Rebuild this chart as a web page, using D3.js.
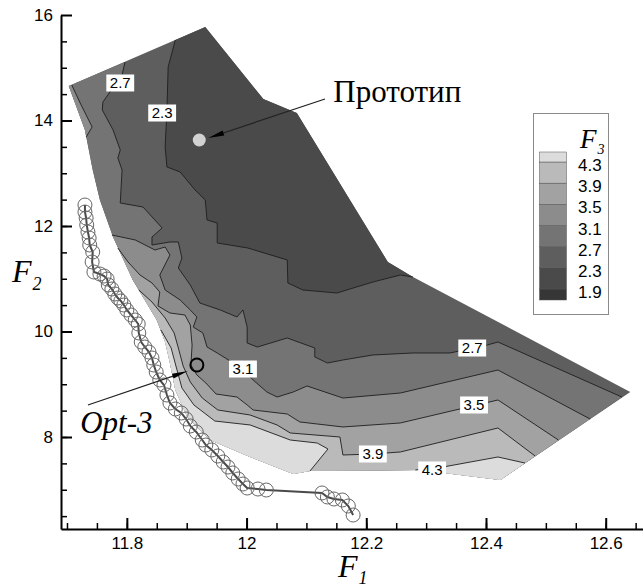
<!DOCTYPE html>
<html>
<head>
<meta charset="utf-8">
<script src="https://cdn.jsdelivr.net/npm/d3@7"></script>
<style>
  body { margin: 0; background: #fff; }
  svg { display: block; }
  .axis text { font-family: "Liberation Sans", Arial, sans-serif; font-size: 17px; fill: #000; }
  .axis path, .axis line { stroke: #000; }
</style>
</head>
<body>
<svg id="chart" width="643" height="588"></svg>
<script>
// contour levels of F3 and band colours (band i lies between levels[i-1] and levels[i])
var levels = [1.9, 2.3, 2.7, 3.1, 3.5, 3.9, 4.3];
var bandColors = ["#363636", "#4a4a4a", "#5e5e5e", "#747474", "#8c8c8c", "#a2a2a2", "#bababa", "#dcdcdc"];

var xTicks = [11.8, 12, 12.2, 12.4, 12.6];
var yTicks = [8, 10, 12, 14, 16];

// outline of the computed region, clockwise, [F1, F2]
var domainEdge = [
  [11.703, 14.654], [11.931, 15.773], [12.028, 14.408], [12.084, 14.142], [12.236, 11.318],
  [12.278, 11.033], [12.641, 8.853], [12.424, 7.185], [12.290, 7.375], [12.106, 7.356],
  [12.078, 7.299], [12.006, 7.621], [11.939, 7.943], [11.901, 8.379], [11.881, 8.891],
  [11.872, 9.403], [11.864, 9.801], [11.850, 10.218], [11.810, 10.976], [11.777, 11.792],
  [11.755, 12.493], [11.743, 13.062], [11.730, 13.820]
];

// contour lines, [F1, F2]
var contour23 = [
  [11.881, 15.526], [11.869, 15.014], [11.867, 14.199], [11.864, 13.498], [11.867, 13.119],
  [11.889, 13.024], [11.914, 12.683], [11.931, 12.493], [11.934, 12.114], [11.951, 12.057],
  [11.951, 11.678], [12.002, 11.583], [12.068, 11.356], [12.069, 10.920], [12.094, 10.787],
  [12.151, 10.730], [12.211, 10.938], [12.257, 11.071], [12.278, 11.033]
];
var contour27 = [
  [11.797, 15.109], [11.792, 14.863], [11.760, 14.351], [11.759, 14.199], [11.777, 13.820],
  [11.789, 13.441], [11.785, 13.289], [11.792, 13.062], [11.789, 12.436], [11.827, 12.360],
  [11.859, 11.962], [11.842, 11.792], [11.842, 11.640], [11.872, 11.697], [11.886, 11.697],
  [11.892, 11.393], [11.886, 11.204], [11.906, 10.882], [11.922, 10.540], [11.956, 10.408],
  [11.984, 10.275], [11.994, 10.408], [12.001, 10.085], [12.001, 9.782], [12.018, 9.706],
  [12.068, 9.877], [12.114, 9.687], [12.114, 9.517], [12.135, 9.403], [12.161, 9.460],
  [12.211, 9.555], [12.278, 9.593], [12.340, 9.593], [12.402, 9.744], [12.420, 9.801],
  [12.627, 8.758]
];
var contour31a = [[11.708, 14.673], [11.722, 14.332], [11.742, 13.877], [11.732, 13.687]];
var contour31b = [
  [11.775, 11.829], [11.814, 11.735], [11.847, 11.545], [11.864, 11.602], [11.872, 11.450],
  [11.855, 11.071], [11.864, 10.787], [11.889, 10.597], [11.906, 10.408], [11.917, 10.275],
  [11.911, 10.085], [11.927, 9.972], [11.934, 9.706], [11.951, 9.593], [11.994, 9.289],
  [12.011, 9.081], [12.034, 8.853], [12.051, 8.758], [12.078, 8.853], [12.101, 8.967],
  [12.161, 8.739], [12.257, 8.834], [12.420, 9.270], [12.574, 8.341]
];
var contour35 = [
  [11.785, 11.583], [11.802, 11.318], [11.822, 11.071], [11.842, 10.920], [11.855, 10.749],
  [11.852, 10.484], [11.872, 10.351], [11.897, 10.313], [11.906, 10.123], [11.909, 9.744],
  [11.907, 9.365], [11.917, 9.176], [11.932, 9.024], [11.949, 8.815], [11.984, 8.758],
  [12.001, 8.607], [12.011, 8.512], [12.068, 8.436], [12.089, 8.285], [12.161, 8.190],
  [12.257, 8.266], [12.420, 8.702], [12.521, 7.943]
];
var contour39 = [
  [11.820, 10.787], [11.842, 10.559], [11.864, 10.256], [11.879, 9.972], [11.887, 9.649],
  [11.894, 9.346], [11.906, 9.043], [11.926, 8.739], [11.952, 8.512], [12.006, 8.417],
  [12.051, 8.228], [12.073, 8.076], [12.156, 8.000], [12.161, 7.659], [12.211, 7.678],
  [12.257, 7.716], [12.420, 8.171], [12.482, 7.640]
];
var contour43a = [
  [11.857, 10.029], [11.874, 9.687], [11.882, 9.346], [11.892, 8.929], [11.912, 8.607],
  [11.947, 8.303], [12.006, 8.228], [12.073, 7.943], [12.118, 7.886], [12.136, 7.773],
  [12.106, 7.356]
];
var contour43b = [[12.282, 7.375], [12.328, 7.431], [12.420, 7.621], [12.465, 7.507]];

// Pareto front points
var paretoF1 = [11.730, 11.730, 11.732, 11.733, 11.735, 11.737, 11.738, 11.743, 11.742, 11.745,
  11.755, 11.762, 11.767, 11.769, 11.775, 11.780, 11.785, 11.790, 11.795, 11.800,
  11.807, 11.814, 11.819, 11.820, 11.824, 11.830, 11.837, 11.842, 11.845, 11.849,
  11.855, 11.862, 11.867, 11.872, 11.881, 11.891, 11.899, 11.906, 11.916, 11.926,
  11.932, 11.942, 11.952, 11.961, 11.969, 11.977, 11.986, 11.994, 12.001, 12.019,
  12.033, 12.126, 12.135, 12.146, 12.160, 12.170, 12.178];
var paretoF2 = [12.398, 12.265, 12.152, 12.019, 11.886, 11.773, 11.640, 11.507, 11.318, 11.128,
  11.090, 11.052, 10.995, 10.882, 10.806, 10.711, 10.635, 10.578, 10.502, 10.408,
  10.313, 10.218, 10.142, 9.972, 9.801, 9.706, 9.611, 9.498, 9.365, 9.232,
  9.081, 8.986, 8.796, 8.645, 8.531, 8.455, 8.341, 8.209, 8.095, 7.943,
  7.848, 7.754, 7.640, 7.526, 7.431, 7.318, 7.204, 7.109, 7.033, 7.014,
  6.995, 6.939, 6.863, 6.825, 6.806, 6.692, 6.521];

// contour labels [F1, F2, text]
var contourLabels = [
  [11.789, 14.711, "2.7"], [11.859, 14.142, "2.3"], [12.377, 9.687, "2.7"],
  [11.994, 9.289, "3.1"], [12.380, 8.607, "3.5"], [12.211, 7.678, "3.9"], [12.310, 7.375, "4.3"]
];

var prototypePt = [11.921, 13.630];
var prototypeText = [12.145, 14.351];
var prototypeArrow = [[12.131, 14.408], [11.936, 13.668]];
var optPt = [11.917, 9.365];
var optText = [11.722, 8.076];
var optArrow = [[11.735, 8.607], [11.902, 9.251]];

var svg = d3.select("#chart");

var x = d3.scaleLinear().domain([11.69, 12.6623]).range([61, 643]),
    y = d3.scaleLinear().domain([6.256, 16]).range([529, 15]);

var lineGen = d3.line().x(function(d) { return x(d[0]); }).y(function(d) { return y(d[1]); });

// regions above each level, painted light over dark
var regions = [
  {line: contour23, close: [4, 3, 2, 1], band: 1},
  {line: contour27, close: d3.range(7, 23).concat([0]), band: 3},
  {line: contour31a, close: [22, 0], band: 4},
  {line: contour31b, close: d3.range(7, 20), band: 4},
  {line: contour35, close: d3.range(7, 19), band: 5},
  {line: contour39, close: d3.range(7, 18), band: 6},
  {line: contour43a, close: d3.range(10, 17), band: 7},
  {line: contour43b, close: [7, 8], band: 7}
];

var plot = svg.append("g");

plot.append("path")
  .attr("d", lineGen(domainEdge) + "Z")
  .attr("fill", bandColors[2]);

plot.selectAll(".region")
  .data(regions)
  .enter().append("path")
  .attr("class", "region")
  .attr("d", function(r) {
    var pts = r.line.concat(r.close.map(function(i) { return domainEdge[i]; }));
    return lineGen(pts) + "Z";
  })
  .attr("fill", function(r) { return bandColors[r.band]; });

plot.selectAll(".cline")
  .data(regions)
  .enter().append("path")
  .attr("class", "cline")
  .attr("d", function(r) { return lineGen(r.line); })
  .attr("fill", "none")
  .attr("stroke", "#1e1e1e")
  .attr("stroke-width", 0.9);

// contour labels
var lab = plot.selectAll(".clabel")
  .data(contourLabels)
  .enter().append("g")
  .attr("class", "clabel")
  .attr("transform", function(d) { return "translate(" + x(d[0]) + "," + y(d[1]) + ")"; });
lab.append("rect").attr("fill", "#fff");
lab.append("text")
  .attr("text-anchor", "middle")
  .attr("dy", "0.36em")
  .style("font", "15px 'Liberation Sans', Arial, sans-serif")
  .text(function(d) { return d[2]; });
lab.each(function() {
  var g = d3.select(this), w = g.select("text").node().getComputedTextLength() + 7;
  g.select("rect").attr("x", -w / 2).attr("y", -8.5).attr("width", w).attr("height", 17);
});

// Pareto front
var pareto = paretoF1.map(function(v, i) { return [v, paretoF2[i]]; });
plot.append("path")
  .attr("d", lineGen(pareto))
  .attr("fill", "none")
  .attr("stroke", "#4a4a4a")
  .attr("stroke-width", 2);
plot.selectAll(".pp")
  .data(pareto)
  .enter().append("circle")
  .attr("class", "pp")
  .attr("cx", function(d) { return x(d[0]); })
  .attr("cy", function(d) { return y(d[1]); })
  .attr("r", 7)
  .attr("fill", "none")
  .attr("stroke", "#666")
  .attr("stroke-width", 1);

// annotations
function arrow(a, b, len, half) {
  var x0 = x(a[0]), y0 = y(a[1]), x1 = x(b[0]), y1 = y(b[1]);
  var dx = x1 - x0, dy = y1 - y0, L = Math.sqrt(dx * dx + dy * dy), ux = dx / L, uy = dy / L;
  plot.append("line")
    .attr("x1", x0).attr("y1", y0).attr("x2", x1 - ux * len * 0.5).attr("y2", y1 - uy * len * 0.5)
    .attr("stroke", "#222").attr("stroke-width", 1.2);
  var bx = x1 - ux * len, by = y1 - uy * len;
  plot.append("path")
    .attr("d", "M" + x1 + "," + y1 + "L" + (bx - uy * half) + "," + (by + ux * half) +
               "L" + (bx + uy * half) + "," + (by - ux * half) + "Z")
    .attr("fill", "#000");
}

arrow(prototypeArrow[0], prototypeArrow[1], 16, 2.6);
plot.append("circle")
  .attr("cx", x(prototypePt[0])).attr("cy", y(prototypePt[1]))
  .attr("r", 6.5).attr("fill", "#d2d2d2");
plot.append("text")
  .attr("x", x(prototypeText[0])).attr("y", y(prototypeText[1]))
  .style("font", "31px 'Liberation Serif', 'Times New Roman', serif")
  .text("Прототип");

arrow(optArrow[0], optArrow[1], 16, 2.6);
plot.append("circle")
  .attr("cx", x(optPt[0])).attr("cy", y(optPt[1]))
  .attr("r", 6.5).attr("fill", "none").attr("stroke", "#000").attr("stroke-width", 2);
plot.append("text")
  .attr("x", x(optText[0])).attr("y", y(optText[1]))
  .style("font", "italic 31px 'Liberation Serif', 'Times New Roman', serif")
  .text("Opt-3");

// axes
var fmt = d3.format("~g");
svg.append("g")
  .attr("class", "axis")
  .attr("transform", "translate(0,529)")
  .call(d3.axisBottom(x).tickValues(d3.range(11.7, 12.66, 0.05)).tickSize(-6).tickSizeOuter(0).tickFormat(""))
  .call(function(g) { g.select(".domain").remove(); g.selectAll("line").attr("stroke-width", 1.5); });
svg.append("g")
  .attr("class", "axis")
  .attr("transform", "translate(0,529)")
  .call(d3.axisBottom(x).tickValues(xTicks).tickSize(-11).tickSizeOuter(0).tickPadding(8).tickFormat(fmt))
  .call(function(g) { g.selectAll("line, path").attr("stroke-width", 2); });

svg.append("g")
  .attr("class", "axis")
  .attr("transform", "translate(61,0)")
  .call(d3.axisLeft(y).tickValues(d3.range(6.5, 16, 0.5)).tickSize(-6).tickSizeOuter(0).tickFormat(""))
  .call(function(g) { g.select(".domain").remove(); g.selectAll("line").attr("stroke-width", 1.5); });
svg.append("g")
  .attr("class", "axis")
  .attr("transform", "translate(61,0)")
  .call(d3.axisLeft(y).tickValues(yTicks).tickSize(-11).tickSizeOuter(0).tickPadding(8).tickFormat(fmt))
  .call(function(g) { g.selectAll("line, path").attr("stroke-width", 2); });

// axis titles
var serif = "'Liberation Serif', 'Times New Roman', serif";
var t1 = svg.append("text").attr("x", 338).attr("y", 577)
  .style("font", "italic 32px " + serif).text("F");
t1.append("tspan").attr("dy", 7).attr("dx", 1).style("font-size", "18px").text("1");
var t2 = svg.append("text").attr("x", 12).attr("y", 282)
  .style("font", "italic 32px " + serif).text("F");
t2.append("tspan").attr("dy", 8).attr("dx", 1).style("font-size", "18px").text("2");

// legend
var legend = svg.append("g");
legend.append("rect")
  .attr("x", 533.5).attr("y", 113.5).attr("width", 75).attr("height", 201)
  .attr("fill", "#fff").attr("stroke", "#8a8a8a");
var ly = d3.scaleLinear().domain([1.9, 4.3]).range([289, 162]);
var edges = [300].concat(levels.map(ly)).concat([152]);
legend.selectAll(".sw")
  .data(bandColors)
  .enter().append("rect")
  .attr("x", 539.5)
  .attr("y", function(d, i) { return edges[i + 1]; })
  .attr("width", 27)
  .attr("height", function(d, i) { return edges[i] - edges[i + 1]; })
  .attr("fill", function(d) { return d; })
  .attr("stroke", "#555").attr("stroke-width", 0.5);
legend.selectAll(".lt")
  .data(levels)
  .enter().append("text")
  .attr("x", 578)
  .attr("y", function(d) { return ly(d) + 3; })
  .attr("dy", "0.36em")
  .style("font", "17px 'Liberation Sans', Arial, sans-serif")
  .text(function(d) { return d.toFixed(1); });
var t3 = legend.append("text").attr("x", 580).attr("y", 148)
  .style("font", "italic 27px " + serif).text("F");
t3.append("tspan").attr("dy", 6).attr("dx", 1).style("font-size", "14px").text("3");
</script>
</body>
</html>
